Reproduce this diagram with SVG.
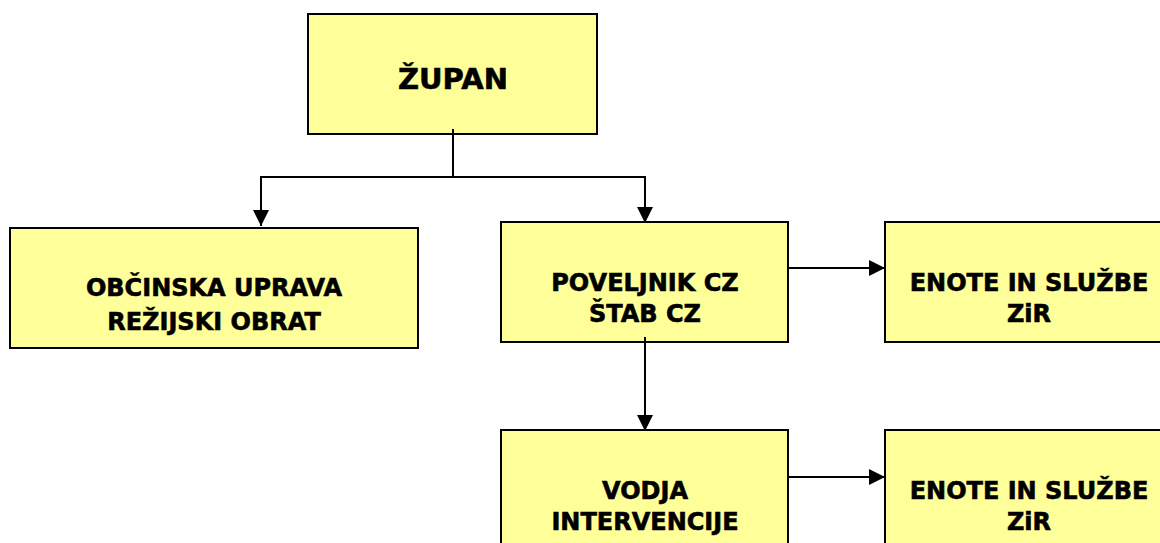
<svg xmlns="http://www.w3.org/2000/svg" width="1160" height="543" viewBox="0 0 1160 543">
  <style>
    .box { fill: #FFFF99; stroke: #000000; stroke-width: 2; }
    .lbl { font-family: "DejaVu Sans", "Liberation Sans", sans-serif; font-weight: bold; font-size: 24px; fill: #000000; stroke: #000000; stroke-width: 0.6; text-anchor: middle; }
    .big { font-size: 29px; }
    .con { fill: none; stroke: #000000; stroke-width: 2; }
    .arr { marker-end: url(#ah); }
  </style>
  <defs>
    <marker id="ah" markerUnits="userSpaceOnUse" markerWidth="16" markerHeight="16" refX="16" refY="8" orient="auto">
      <path d="M0,0 L16,8 L0,16 Z" fill="#000000"/>
    </marker>
  </defs>
  <rect width="1160" height="543" fill="#FFFFFF"/>

  <g id="zupan">
    <rect class="box" x="308" y="14" width="289" height="120"/>
    <text class="lbl big" x="453" y="89">ŽUPAN</text>
  </g>
  <g id="obcinska-uprava">
    <rect class="box" x="10" y="228" width="408" height="120"/>
    <text class="lbl" x="214" y="296">OBČINSKA UPRAVA</text>
    <text class="lbl" x="214" y="330">REŽIJSKI OBRAT</text>
  </g>
  <g id="poveljnik">
    <rect class="box" x="501" y="222" width="287" height="120"/>
    <text class="lbl" x="645" y="291">POVELJNIK CZ</text>
    <text class="lbl" x="645" y="322">ŠTAB CZ</text>
  </g>
  <g id="enote-1">
    <rect class="box" x="885" y="222" width="290" height="120"/>
    <text class="lbl" x="1029" y="291">ENOTE IN SLUŽBE</text>
    <text class="lbl" x="1029" y="322">ZiR</text>
  </g>
  <g id="vodja">
    <rect class="box" x="501" y="430" width="287" height="130"/>
    <text class="lbl" x="645" y="499">VODJA</text>
    <text class="lbl" x="645" y="530">INTERVENCIJE</text>
  </g>
  <g id="enote-2">
    <rect class="box" x="885" y="430" width="290" height="130"/>
    <text class="lbl" x="1029" y="499">ENOTE IN SLUŽBE</text>
    <text class="lbl" x="1029" y="530">ZiR</text>
  </g>

  <g id="connectors">
    <line class="con" x1="453" y1="129" x2="453" y2="177"/>
    <line class="con" x1="260" y1="177" x2="646" y2="177"/>
    <line class="con arr" x1="261" y1="177" x2="261" y2="226"/>
    <line class="con arr" x1="645" y1="177" x2="645" y2="223"/>
    <line class="con arr" x1="788" y1="268" x2="885" y2="268"/>
    <line class="con arr" x1="645" y1="337" x2="645" y2="431"/>
    <line class="con arr" x1="788" y1="477" x2="885" y2="477"/>
  </g>
</svg>
